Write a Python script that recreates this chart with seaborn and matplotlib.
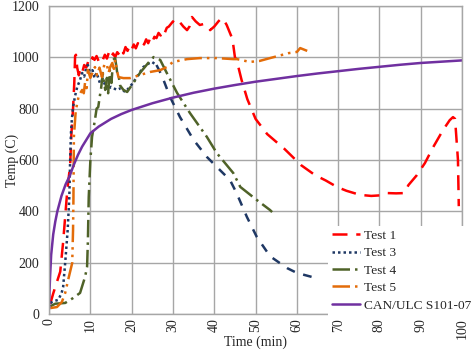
import numpy as np
import pandas as pd
import matplotlib
matplotlib.use("Agg")
import matplotlib.pyplot as plt
import seaborn as sns

# Avlästa värden: tid (min) och temperatur (C)
test1_t = [0.3, 1.0, 2.0, 2.7, 3.4, 4.0, 4.4, 5.1, 5.4, 5.8, 6.1, 6.3, 6.5, 6.8, 7.2, 7.6, 8.0, 8.5,
           9.0, 9.5, 10.0, 10.5, 11.0, 11.5, 12.0, 12.5, 13.0, 13.5, 14.0, 14.5, 15.0, 15.5, 16.0,
           16.5, 17.0, 17.5, 18.0, 18.5, 19.0, 19.5, 20.0, 20.5, 21.0, 21.5, 22.0, 22.5, 23.0, 23.5,
           24.0, 24.5, 25.0, 25.5, 26.0, 26.5, 27.0, 27.5, 28.0, 28.5, 29.0, 29.5, 30.0, 30.5, 31.5,
           32.5, 33.4, 34.0, 34.6, 35.5, 36.5, 37.5, 38.5, 39.0, 40.0, 41.0, 41.8, 42.5, 43.0, 44.4,
           45.0, 45.4, 46.6, 48.0, 50.0, 52.8, 57.0, 61.0, 64.4, 67.0, 69.7, 72.0, 75.3, 78.0, 80.0,
           82.0, 84.0, 86.0, 87.0, 89.0, 91.0, 93.0, 95.4, 97.0, 97.8, 98.3, 99.0, 99.2]
test1_v = [40, 80, 130, 165, 280, 400, 480, 580, 700, 800, 900, 1005, 1010, 960, 930, 955, 940, 970,
           960, 985, 975, 1000, 990, 1005, 985, 1000, 990, 1010, 995, 1020, 1000, 1015, 1000,
           1020, 1010, 1030, 1015, 1040, 1025, 1045, 1030, 1050, 1035, 1055, 1045, 1060, 1050, 1070,
           1055, 1075, 1060, 1080, 1075, 1095, 1085, 1105, 1095, 1115, 1120, 1130, 1140, 1130, 1140,
           1120, 1106, 1120, 1157, 1140, 1126, 1130, 1120, 1106, 1120, 1140, 1153, 1140, 1126, 1071,
           1000, 990, 912, 837, 760, 701, 643, 580, 541, 520, 495, 480, 464, 460, 462,
           471, 470, 471, 502, 540, 588, 650, 717, 755, 767, 760, 600, 420]

test3_t = [0.3, 1.2, 2.2, 3.0, 3.4, 3.9, 4.5, 4.9, 5.1, 5.3, 5.5, 5.8, 6.3, 6.8, 7.5, 8.0, 8.5, 9.0,
           9.4, 10.0, 10.5, 11.0, 11.5, 12.3, 13.0, 14.0, 15.0, 16.4, 17.4, 18.4, 19.3, 20.3, 21.5,
           22.8, 24.0, 24.9, 26.0, 26.8, 27.7, 29.3, 31.7, 35.0, 38.2, 40.6, 43.8, 45.4, 47.9, 50.3,
           53.5, 57.6, 60.0, 63.7, 65.0]
test3_v = [43, 50, 55, 80, 105, 200, 327, 456, 600, 705, 756, 806, 850, 884, 912, 939, 925, 960,
           970, 931, 950, 920, 940, 900, 915, 873, 885, 873, 880, 865, 880, 900, 930,
           962, 975, 982, 970, 945, 912, 845, 767, 678, 612, 573, 522, 471, 378, 300,
           225, 179, 160, 144, 140]

test4_t = [0.3, 1.5, 3.9, 5.8, 7.5, 8.7, 9.2, 9.4, 9.6, 10.0, 10.4, 11.1, 11.5, 11.9, 12.3, 12.6,
           13.0, 13.3, 13.6, 14.0, 14.3, 14.7, 15.1, 15.5, 16.0, 16.5, 16.8, 17.2, 18.0, 18.9, 20.4,
           22.0, 24.0, 25.3, 26.9, 28.5, 31.0, 34.1, 38.2, 40.6, 44.6, 46.3, 50.3, 53.5, 54.0]
test4_v = [30, 40, 43, 62, 82, 144, 183, 288, 456, 600, 690, 756, 800, 806, 850, 880,
           939, 900, 873, 920, 860, 950, 900, 990, 997, 939, 931, 890, 873, 865, 900,
           939, 978, 1001, 990, 939, 861, 783, 690, 627, 549, 495, 444, 405, 397]

test5_t = [0.3, 1.9, 3.1, 3.9, 4.6, 5.6, 5.8, 5.9, 6.0, 6.4, 6.8, 7.2, 8.0, 8.4, 8.7, 9.1, 9.4, 10.0,
           10.5, 11.1, 11.6, 12.2, 12.8, 13.4, 14.0, 14.4, 14.8, 15.3, 15.7, 16.0, 16.4, 16.8, 18.0,
           19.6, 22.0, 24.5, 26.9, 28.5, 30.0, 33.4, 36.5, 40.6, 44.6, 45.5, 48.6, 51.0, 53.5, 55.4,
           57.9, 60.0, 60.8, 62.5]
test5_v = [23, 27, 47, 82, 132, 199, 327, 456, 690, 780, 822, 850, 873, 860, 900, 880, 951, 920,
           940, 962, 930, 960, 923, 975, 970, 940, 962, 978, 955, 990, 950, 923, 919,
           919, 931, 943, 950, 962, 982, 993, 997, 997, 993, 993, 982, 986, 997, 1005,
           1016, 1021, 1036, 1025]

std_t = [0, 0.1, 0.25, 0.5, 1, 1.5, 2, 3, 4, 5, 6, 7, 8, 10, 12, 15, 17.5, 20, 25, 30, 35, 40, 45,
         50, 55, 60, 65, 70, 75, 80, 85, 90, 95, 100]
std_v = [20, 90, 150, 230, 310, 360, 400, 460, 505, 538, 582, 620, 652, 704, 730, 760, 779, 795,
         821, 843, 862, 878, 892, 905, 916, 927, 937, 946, 955, 963, 971, 978, 983, 988]

namn = ["Test 1", "Test 3", "Test 4", "Test 5", "CAN/ULC S101-07"]
serier = [(test1_t, test1_v), (test3_t, test3_v), (test4_t, test4_v), (test5_t, test5_v), (std_t, std_v)]
farger = ["#FF0000", "#1F3864", "#4F6228", "#E36C09", "#7030A0"]
streck = [(6, 3.5), (1, 1.2), (7, 2, 1, 2), (7, 2, 1, 2, 1, 2), ""]

sns.set_style("whitegrid")
plt.rcParams["font.family"] = ["Liberation Serif", "DejaVu Serif"]

fig = plt.figure(figsize=(4.72, 3.52), dpi=100)
ax = fig.add_axes([0.104, 0.108, 0.875, 0.875])

for (t, v), n, c, d in zip(serier, namn, farger, streck):
    df = pd.DataFrame({"t": t, "v": v})
    if n == "Test 3":
        # Test 3: prickad i början, streckad i den fallande delen
        k = test3_t.index(26.0)
        sns.lineplot(data=df.iloc[:k + 1], x="t", y="v", sort=False, ax=ax, color=c, lw=1.8,
                     label=n).lines[-1].set_dashes(d)
        sns.lineplot(data=df.iloc[k:], x="t", y="v", sort=False, ax=ax, color=c, lw=1.8,
                     legend=False).lines[-1].set_dashes((3.5, 3.5))
    elif d == "":
        sns.lineplot(data=df, x="t", y="v", sort=False, ax=ax, color=c, lw=1.8, label=n)
    else:
        sns.lineplot(data=df, x="t", y="v", sort=False, ax=ax, color=c, lw=1.8,
                     label=n).lines[-1].set_dashes(d)

ax.set_xlim(0, 100)
ax.set_ylim(0, 1200)
ax.set_xticks(np.arange(0, 101, 10))
ax.set_yticks(np.arange(0, 1201, 200))
ax.tick_params(axis="x", labelrotation=90, labelsize=10, length=0, pad=3)
ax.tick_params(axis="y", labelsize=10, length=0, pad=7)
ax.grid(True, color="#A6A6A6", lw=1)
for s in ax.spines.values():
    s.set_color("#A6A6A6")
    s.set_linewidth(1)
ax.set_xlabel("Time (min)", fontsize=10)
ax.xaxis.set_label_coords(0.5, -0.07)
ax.set_ylabel("Temp (C)", fontsize=10)
ax.yaxis.set_label_coords(-0.072, 0.5)

leg = ax.legend(loc="lower left", bbox_to_anchor=(0.675, -0.005), fontsize=9.6, frameon=True,
                fancybox=False, framealpha=1, edgecolor="white", borderpad=0.3,
                labelspacing=0.38, handlelength=2.1, handletextpad=0.3, borderaxespad=0)
leg.get_frame().set_linewidth(0)

fig.savefig("out.png", dpi=100)
